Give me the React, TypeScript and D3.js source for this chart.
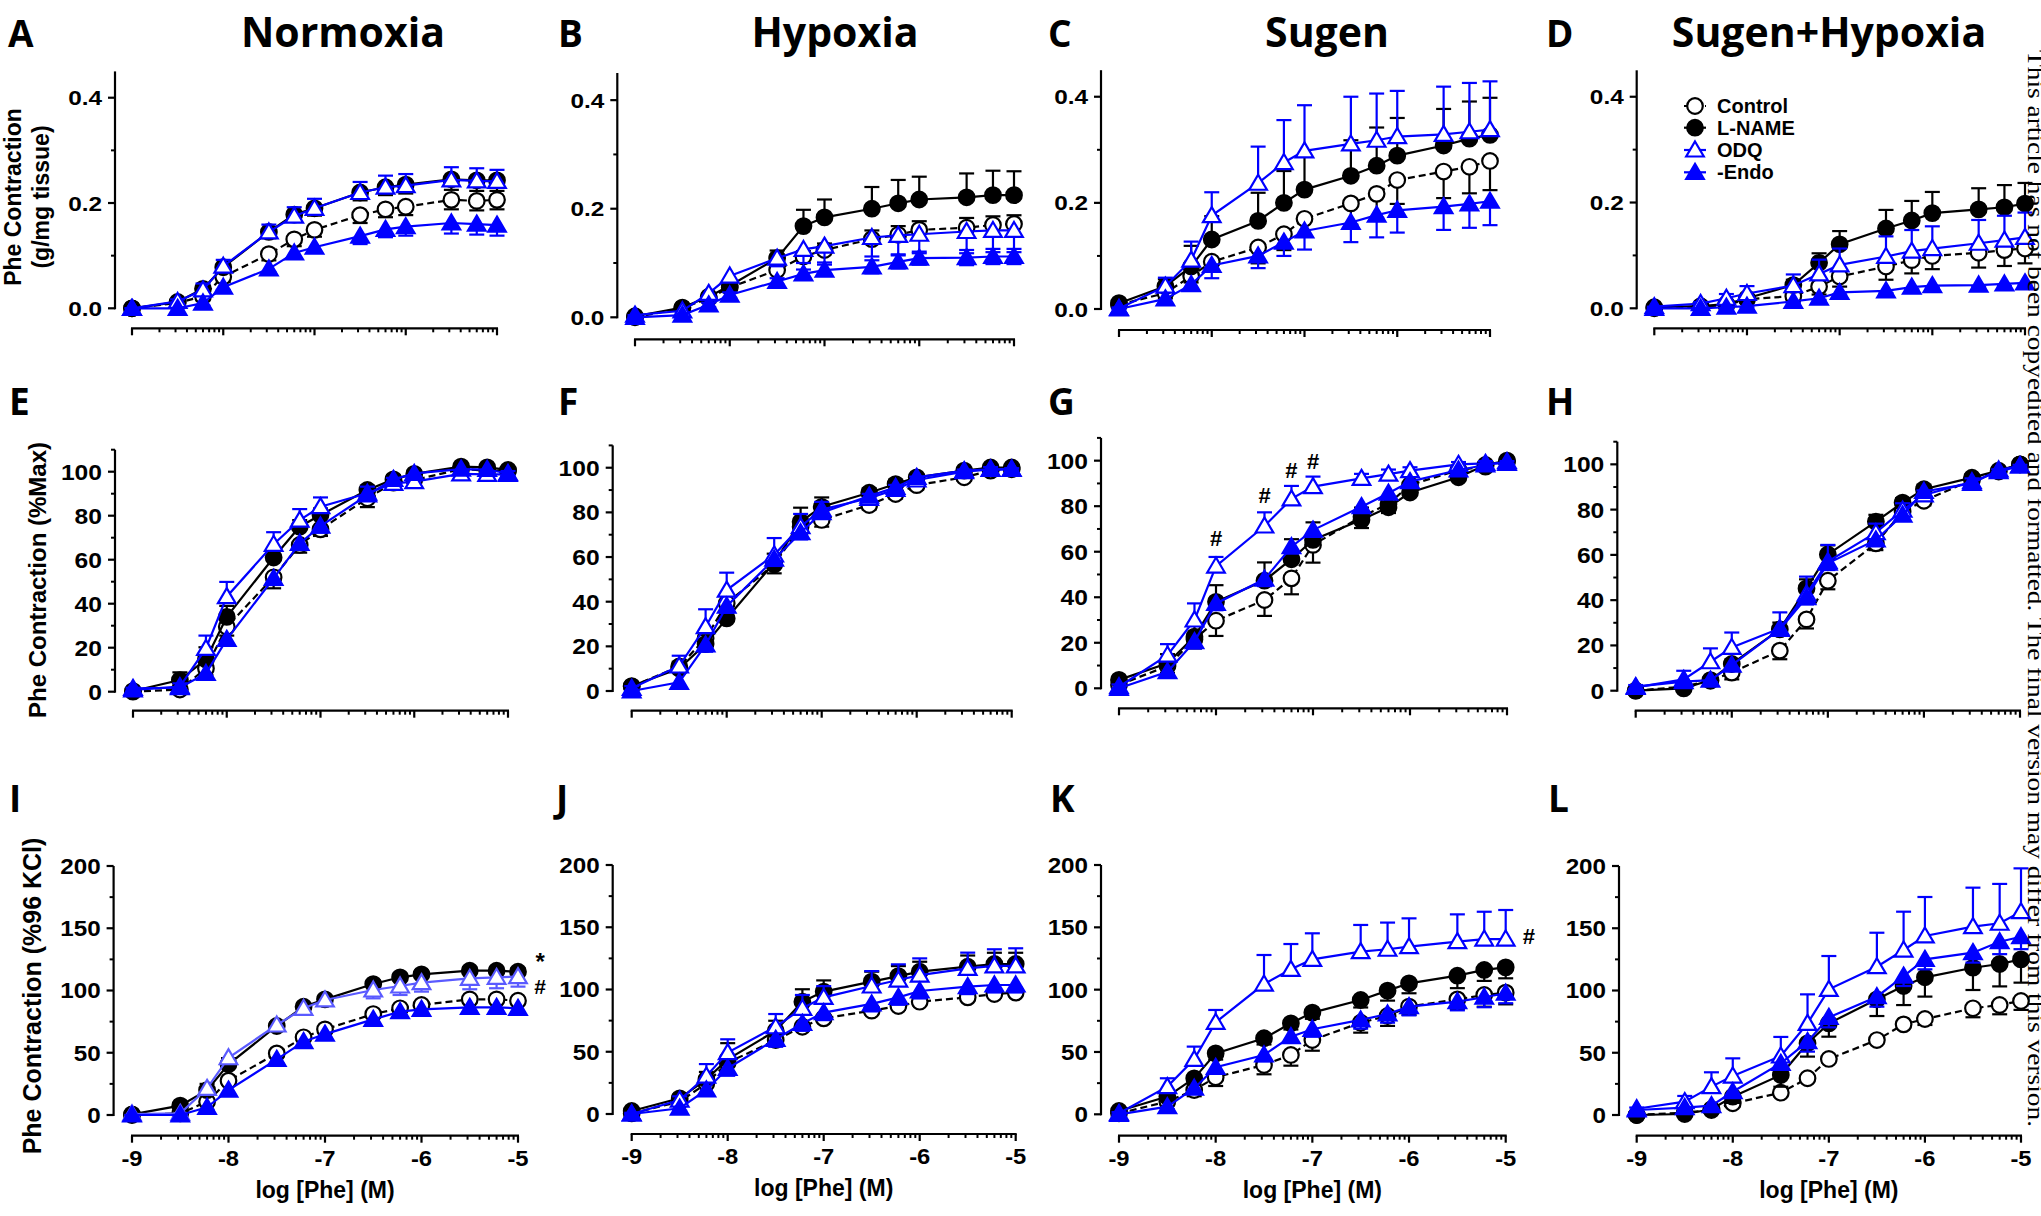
import React from "react";
import * as d3 from "d3";

// ---------- shared axis data ----------
const logPhe = [-9, -8.5, -8.222, -8, -7.5, -7.222, -7, -6.5, -6.222, -6, -5.5, -5.222, -5];
const xMajor = [-9, -8, -7, -6, -5];
const xTickLabels = ["-9", "-8", "-7", "-6", "-5"];
const seriesNames = ["Control", "L-NAME", "ODQ", "-Endo"];
const groupTitles = ["Normoxia", "Hypoxia", "Sugen", "Sugen+Hypoxia"];
const panelLetters = ["A", "B", "C", "D", "E", "F", "G", "H", "I", "J", "K", "L"];
const row1Major = [0, 0.2, 0.4];
const row1Minor = [0.1, 0.3];
const row2Major = [0, 20, 40, 60, 80, 100];
const row2Minor = [10, 30, 50, 70, 90, 110];
const row3Major = [0, 50, 100, 150, 200];
const row3Minor = [25, 75, 125, 175];
const yTitleA = ["Phe Contraction", "(g/mg tissue)"];
const yTitleE = "Phe Contraction (%Max)";
const yTitleI = "Phe Contraction (%96 KCl)";
const xTitle = "log [Phe] (M)";
const watermark = "This article has not been copyedited and formatted. The final version may differ from this version.";

// ---------- Panel A (Normoxia, g/mg) ----------
const aCtl = [0, 0.01, 0.023, 0.06, 0.103, 0.131, 0.149, 0.177, 0.188, 0.193, 0.206, 0.204, 0.206];
const aLn = [0, 0.012, 0.037, 0.078, 0.145, 0.178, 0.19, 0.22, 0.23, 0.235, 0.245, 0.243, 0.243];
const aOdq = [0, 0.013, 0.035, 0.08, 0.145, 0.175, 0.19, 0.22, 0.23, 0.233, 0.244, 0.242, 0.241];
const aEndo = [0, 0, 0.01, 0.04, 0.075, 0.105, 0.116, 0.137, 0.15, 0.155, 0.162, 0.16, 0.158];
const aCtlE = [0, 0.005, 0.008, 0.01, 0.012, 0.013, 0.013, 0.015, 0.015, 0.016, 0.018, 0.018, 0.018];
const aLnE = [0, 0.005, 0.008, 0.01, 0.012, 0.013, 0.014, 0.015, 0.015, 0.017, 0.02, 0.02, 0.02];
const aOdqE = [0, 0.004, 0.012, 0.012, 0.014, 0.017, 0.018, 0.02, 0.022, 0.022, 0.024, 0.024, 0.022];
const aEndoE = [0, 0.003, 0.005, 0.005, 0.006, 0.01, 0.01, 0.015, 0.015, 0.017, 0.02, 0.02, 0.02];
const aDir = ["down", "down", "up", "down"];

// ---------- Panel B (Hypoxia, g/mg) ----------
const bCtl = [0, 0.017, 0.035, 0.055, 0.087, 0.112, 0.124, 0.144, 0.152, 0.161, 0.165, 0.17, 0.172];
const bLn = [0.002, 0.018, 0.038, 0.058, 0.109, 0.168, 0.184, 0.2, 0.21, 0.217, 0.221, 0.225, 0.225];
const bOdq = [0.004, 0.012, 0.044, 0.076, 0.109, 0.125, 0.131, 0.147, 0.151, 0.153, 0.158, 0.16, 0.16];
const bEndo = [0, 0.004, 0.023, 0.041, 0.066, 0.08, 0.087, 0.093, 0.102, 0.109, 0.11, 0.112, 0.112];
const bCtlE = [0, 0.003, 0.005, 0.006, 0.01, 0.01, 0.012, 0.016, 0.016, 0.016, 0.018, 0.016, 0.016];
const bLnE = [0, 0.004, 0.006, 0.008, 0.014, 0.03, 0.033, 0.04, 0.043, 0.042, 0.044, 0.045, 0.044];
const bOdqE = [0, 0.003, 0.006, 0.008, 0.015, 0.025, 0.03, 0.035, 0.035, 0.035, 0.04, 0.04, 0.04];
const bEndoE = [0, 0.003, 0.004, 0.005, 0.006, 0.008, 0.01, 0.012, 0.012, 0.012, 0.014, 0.014, 0.014];
const bDir = ["up", "up", "down", "both"];

// ---------- Panel C (Sugen, g/mg) ----------
const cCtl = [0.008, 0.03, 0.062, 0.089, 0.116, 0.141, 0.17, 0.199, 0.217, 0.243, 0.259, 0.268, 0.279];
const cLn = [0.011, 0.043, 0.08, 0.131, 0.166, 0.2, 0.225, 0.251, 0.27, 0.289, 0.308, 0.321, 0.328];
const cOdq = [0.001, 0.043, 0.092, 0.176, 0.237, 0.276, 0.298, 0.311, 0.318, 0.325, 0.329, 0.334, 0.338];
const cEndo = [0, 0.019, 0.046, 0.082, 0.1, 0.126, 0.147, 0.163, 0.177, 0.186, 0.193, 0.198, 0.203];
const cCtlE = [0.002, 0.01, 0.012, 0.015, 0.03, 0.03, 0.03, 0.04, 0.045, 0.045, 0.05, 0.05, 0.055];
const cLnE = [0.003, 0.013, 0.039, 0.044, 0.053, 0.06, 0.065, 0.067, 0.072, 0.071, 0.069, 0.07, 0.07];
const cOdqE = [0.002, 0.016, 0.035, 0.044, 0.069, 0.08, 0.086, 0.089, 0.088, 0.086, 0.09, 0.092, 0.091];
const cEndoE = [0.002, 0.008, 0.01, 0.024, 0.023, 0.026, 0.035, 0.037, 0.042, 0.042, 0.044, 0.045, 0.045];
const cDir = ["down", "up", "up", "down"];

// ---------- Panel D (Sugen+Hypoxia, g/mg) ----------
const dCtl = [0, 0.003, 0.006, 0.017, 0.023, 0.041, 0.06, 0.079, 0.091, 0.099, 0.105, 0.11, 0.113];
const dLn = [0.002, 0.004, 0.008, 0.019, 0.044, 0.086, 0.121, 0.151, 0.166, 0.18, 0.187, 0.191, 0.198];
const dOdq = [0.003, 0.009, 0.019, 0.028, 0.043, 0.065, 0.082, 0.098, 0.108, 0.113, 0.123, 0.129, 0.134];
const dEndo = [0, 0, 0.002, 0.004, 0.013, 0.019, 0.03, 0.033, 0.04, 0.043, 0.044, 0.046, 0.048];
const dCtlE = [0, 0.002, 0.004, 0.006, 0.01, 0.015, 0.019, 0.025, 0.025, 0.025, 0.028, 0.03, 0.028];
const dLnE = [0, 0.002, 0.004, 0.006, 0.01, 0.018, 0.025, 0.035, 0.037, 0.04, 0.04, 0.042, 0.039];
const dOdqE = [0, 0.003, 0.008, 0.014, 0.021, 0.027, 0.031, 0.038, 0.04, 0.042, 0.044, 0.046, 0.047];
const dEndoE = [0, 0.001, 0.002, 0.002, 0.003, 0.003, 0.004, 0.004, 0.004, 0.004, 0.004, 0.004, 0.004];
const dDir = ["down", "up", "up", "down"];

// ---------- Panel E (Normoxia, %Max) ----------
const eCtl = [0, 1, 10.6, 29.5, 52, 66.7, 73.8, 87.9, 95, 96.2, 101.2, 100.5, 100.3];
const eLn = [0.3, 5.3, 14.7, 34, 61, 75, 80.3, 91.7, 96.5, 99, 102.3, 102, 100.8];
const eOdq = [0.8, 2.3, 19.7, 43.2, 67, 78, 84.1, 90.2, 94.7, 95.5, 99, 98.8, 98.8];
const eEndo = [1.5, 1.8, 8.3, 23.8, 51.5, 67.4, 75.3, 89.4, 96.5, 99.2, 101.2, 101, 99.2];
const eCtlE = [1, 1.5, 3, 4, 5, 3.5, 3, 4, 3, 2.5, 1.5, 1.5, 1];
const eLnE = [1, 3.5, 5.5, 5, 3, 3, 3, 2, 2, 1.5, 1, 1, 1];
const eOdqE = [1, 1.5, 5.8, 6.7, 5.5, 5, 4.2, 3, 2.5, 2, 1.5, 1.5, 1.5];
const eEndoE = [1, 1, 2, 2.5, 3, 3, 3, 2, 2, 1.5, 1, 1, 1];
const eDir = ["down", "up", "up", "down"];

// ---------- Panel F (Hypoxia, %Max) ----------
const fCtl = [2, 11, 23.6, 39.3, 56.7, 73.6, 76.6, 83.3, 88.2, 92.2, 95.7, 98.7, 99.3];
const fLn = [2.2, 10.1, 21, 32.5, 57.5, 75.8, 82.5, 88.8, 92.7, 95.7, 98.7, 100.1, 100.1];
const fOdq = [1.2, 11.2, 28.8, 45.2, 61, 73.6, 81.3, 86.3, 90.3, 94.5, 98.2, 99.3, 99.3];
const fEndo = [0, 3.9, 20.6, 38, 59, 70.9, 79.9, 87.3, 91.2, 95.7, 98.7, 99.3, 99.3];
const fCtlE = [1, 2, 3, 4.5, 4, 3.5, 3, 2, 2, 2, 1.5, 1, 1];
const fLnE = [1, 3, 4, 4, 4, 6.3, 4.2, 2, 2, 1.5, 1, 1, 0.5];
const fOdqE = [1, 4.6, 7.8, 7.8, 7.5, 5.7, 3.4, 2, 2, 1.5, 1, 1, 0.5];
const fEndoE = [1, 2, 3, 3, 3, 3, 2, 2, 1.5, 1.5, 1, 1, 0.5];
const fDir = ["down", "up", "up", "down"];

// ---------- Panel G (Sugen, %Max) ----------
const gCtl = [1.5, 9.8, 21.5, 29.7, 38.8, 48.3, 63, 75.4, 81, 89.3, 95.9, 97.4, 99.6];
const gLn = [3.7, 11, 22.7, 38, 47.3, 56.7, 65.2, 74, 79.5, 86, 92.7, 98.1, 100];
const gOdq = [0.7, 14.6, 30, 53.7, 71.3, 83.2, 88.6, 92.2, 94.1, 95.6, 98.4, 98.8, 98.8];
const gEndo = [0, 7.3, 20.5, 37.3, 47.9, 62.2, 69.5, 79.8, 85.7, 90.8, 95.9, 98.1, 99.6];
const gCtlE = [1, 3, 4, 6.7, 7, 7, 7.8, 5, 4, 3, 2, 1.5, 1];
const gLnE = [1, 4, 6, 7.3, 8, 8.8, 7.7, 5.4, 3.8, 3, 2, 1.5, 1];
const gOdqE = [1, 4.8, 7.3, 4, 6, 5.7, 4.4, 2, 2, 1.5, 1, 1, 1];
const gEndoE = [1, 2, 3, 3, 3, 3, 3, 2, 2, 2, 1, 1, 1];
const gDir = ["down", "up", "up", "down"];
const gHashIdx = [3, 4, 5, 6];
const gHashVal = [66, 85, 96, 100];

// ---------- Panel H (Sugen+Hypoxia, %Max) ----------
const hCtl = [0, 1.8, 4.4, 8, 17.7, 31.5, 48.6, 65.1, 79.1, 83.9, 93.1, 96.8, 100];
const hLn = [0, 1, 4.7, 11.8, 27.1, 45.2, 60.2, 74.7, 83.1, 89, 94.1, 97.2, 100];
const hOdq = [1.5, 5, 12.8, 19.1, 27.5, 42.7, 57, 69.8, 79.8, 86.5, 92.3, 96.8, 99.3];
const hEndo = [1.8, 4, 4.7, 11.3, 27.1, 41.1, 56.3, 66.6, 77.6, 88, 91.6, 97.5, 99.3];
const hCtlE = [1, 1.5, 2, 3, 3.8, 4, 3.8, 3, 3, 2, 1.5, 1, 0.5];
const hLnE = [1, 1, 1.5, 2, 3, 4, 4, 3, 2, 2, 1.5, 1, 0.5];
const hOdqE = [1, 3.8, 5.9, 6.6, 7.1, 7.7, 7.4, 4, 3, 2, 1.5, 1, 0.5];
const hEndoE = [1, 1, 1, 2, 2, 3, 3, 2, 2, 2, 1.5, 1, 0.5];
const hDir = ["down", "up", "up", "down"];

// ---------- Panel I (Normoxia, %KCl) ----------
const iCtl = [0, 1.3, 10.7, 27.6, 49.5, 62.4, 68.8, 81.1, 85.7, 88.4, 92.9, 92.9, 91.8];
const iLn = [0.5, 7.5, 20, 40.7, 71.5, 87, 92.9, 105.2, 110.6, 113, 115.9, 115.9, 115.1];
const iOdq = [0.8, 1.3, 21.4, 46, 72.3, 85.7, 92.4, 100.4, 103.6, 106.3, 109.8, 110.6, 111.1];
const iEndo = [0, 0, 6.2, 20, 44.7, 58.9, 65, 76.8, 83, 84.9, 86.5, 86.5, 85.7];
const iCtlE = [1, 1, 2, 3, 3, 3, 3, 3, 3, 3, 3, 3, 3];
const iLnE = [1, 2, 5, 5, 3, 3, 3, 3, 3, 3, 3, 3, 3];
const iOdqE = [1, 1, 3, 4, 3, 3, 4, 6.7, 7.2, 7.2, 8.8, 8.8, 8];
const iEndoE = [1, 1, 2, 3, 3, 3, 3, 3, 3, 3, 3, 3, 3];
const iDir = ["down", "up", "down", "down"];
const iMarks = ["*", "#"];
const iMarkX = [-4.77, -4.77];
const iMarkVal = [126, 104];

// ---------- Panel J (Hypoxia, %KCl) ----------
const jCtl = [0.5, 10, 24.6, 41.2, 59.4, 70.1, 76.8, 83, 86.7, 90.2, 93.7, 96.4, 97.5];
const jLn = [2.4, 12.6, 27.8, 43.9, 66.9, 90.2, 98.3, 106.3, 110.8, 114.3, 118.3, 120.5, 120.5];
const jOdq = [0, 11.2, 30.5, 49.3, 70.1, 84.9, 93.7, 102.8, 107.6, 111.6, 117, 118.9, 118.9];
const jEndo = [0, 4.6, 19.3, 36.7, 60, 72.8, 81.4, 88.4, 93.7, 98.8, 102.3, 103.6, 103.6];
const jCtlE = [1, 2, 3, 3, 3, 3, 3, 3, 3, 3, 3, 3, 3];
const jLnE = [1, 3, 6, 13, 8, 10, 9, 8, 8, 8, 9, 9, 9];
const jOdqE = [1, 3, 9.6, 10.7, 10.2, 10.7, 9, 12, 12.6, 13.4, 12.6, 13.4, 14.2];
const jEndoE = [1, 2, 4, 6, 6, 6, 6, 6, 6, 6, 6, 6, 6];
const jDir = ["down", "up", "up", "down"];

// ---------- Panel K (Sugen, %KCl) ----------
const kCtl = [0.8, 10.2, 19.5, 29.7, 39.6, 47.6, 59.6, 73.5, 78.9, 86.4, 92.2, 95.7, 97.6];
const kLn = [2.7, 14.2, 28.9, 48.9, 61, 73, 81.6, 91.7, 99.2, 105.1, 111.2, 115.8, 117.9];
const kOdq = [0.8, 22.2, 44.1, 73.8, 104.5, 116.3, 124.3, 130.5, 132.4, 134.5, 138.5, 140.6, 140.6];
const kEndo = [0, 6.1, 20.9, 37.7, 47.6, 62.3, 68.2, 75.7, 80.5, 86.4, 90.4, 93.9, 97.1];
const kCtlE = [1, 3, 5, 7, 7.5, 8.6, 8.6, 8, 8, 6.7, 8, 9.4, 9.4];
const kLnE = [1, 3, 5, 5, 5, 5, 5, 6, 8, 8, 10, 8.8, 8.8];
const kOdqE = [1, 6.7, 10.2, 9.9, 23.3, 20.3, 20.9, 21.4, 21.4, 22.7, 21.9, 21.9, 23.3];
const kEndoE = [1, 2, 4, 5, 5, 5, 6, 7, 7, 7, 7, 8, 8];
const kDir = ["down", "down", "up", "down"];
const kMarkX = [-4.76];
const kMarkVal = [143];

// ---------- Panel L (Sugen+Hypoxia, %KCl) ----------
const lCtl = [0, 1.9, 4, 9.4, 17.9, 29.5, 45, 60.2, 72.8, 77.1, 85.7, 88.4, 91.6];
const lLn = [0, 0.8, 4.6, 14.7, 32.1, 57.6, 73.6, 92.9, 103.6, 110.6, 118.3, 121.3, 125];
const lOdq = [5, 10.7, 22.8, 31.3, 47.4, 73.6, 100.9, 119.1, 132.5, 143.8, 151.3, 154, 163.3];
const lEndo = [4, 6, 7.5, 18.7, 41.5, 58.9, 78.4, 95, 111.6, 125, 130.4, 139.2, 143.2];
const lCtlE = [1, 1, 2, 3, 3, 3, 3, 3, 3, 4.8, 7.2, 7.5, 7.2];
const lLnE = [1, 2, 3, 5, 9.4, 10.7, 10.7, 13.4, 15.3, 15.5, 17.9, 18, 18.7];
const lOdqE = [1, 4.6, 11.5, 14.2, 15.3, 23.3, 26.8, 27.3, 30.8, 31.3, 31.3, 31.6, 34.8];
const lEndoE = [1, 2, 2, 3, 5, 8, 8, 8, 8, 8, 8, 10, 10];
const lDir = ["down", "down", "up", "down"];

// ---------- styling ----------
const BLUE = "#0000ff";
const LIGHTBLUE = "#5a5aff";
const SANS = "'Liberation Sans', Arial, Helvetica, sans-serif";
const TITLE_FONT = "'Open Sans', Lato, sans-serif";

const rowCfg = [
  { ymax: 0.45, major: row1Major, minor: row1Minor, fmt: d3.format(".1f"), tickFont: 21, stretch: 1.16 },
  { ymax: 110, major: row2Major, minor: row2Minor, fmt: d3.format("d"), tickFont: 22, stretch: 1.12 },
  { ymax: 200, major: row3Major, minor: row3Minor, fmt: d3.format("d"), tickFont: 22, stretch: 1.1 },
];

const panels = [
  { row: 0, ax: 115, x0: 132, x1: 497, y0: 308.3, y1: 71.4, xay: 328.3, s: [aCtl, aLn, aOdq, aEndo], e: [aCtlE, aLnE, aOdqE, aEndoE], dir: aDir, lx: 8, ly: 47 },
  { row: 0, ax: 617.3, x0: 635, x1: 1014, y0: 317.3, y1: 73, xay: 339.3, s: [bCtl, bLn, bOdq, bEndo], e: [bCtlE, bLnE, bOdqE, bEndoE], dir: bDir, lx: 558, ly: 47 },
  { row: 0, ax: 1101, x0: 1119, x1: 1490, y0: 309, y1: 70.2, xay: 330, s: [cCtl, cLn, cOdq, cEndo], e: [cCtlE, cLnE, cOdqE, cEndoE], dir: cDir, lx: 1048, ly: 47 },
  { row: 0, ax: 1636.7, x0: 1654.3, x1: 2025, y0: 308.3, y1: 70.3, xay: 328.3, s: [dCtl, dLn, dOdq, dEndo], e: [dCtlE, dLnE, dOdqE, dEndoE], dir: dDir, lx: 1546, ly: 47 },
  { row: 1, ax: 115, x0: 133, x1: 508, y0: 691.7, y1: 449.7, xay: 710.7, s: [eCtl, eLn, eOdq, eEndo], e: [eCtlE, eLnE, eOdqE, eEndoE], dir: eDir, lx: 9, ly: 415 },
  { row: 1, ax: 612.7, x0: 631.7, x1: 1011.7, y0: 691, y1: 445.4, xay: 710.7, s: [fCtl, fLn, fOdq, fEndo], e: [fCtlE, fLnE, fOdqE, fEndoE], dir: fDir, lx: 558, ly: 415 },
  { row: 1, ax: 1101, x0: 1119, x1: 1507, y0: 688.3, y1: 437.9, xay: 708.3, s: [gCtl, gLn, gOdq, gEndo], e: [gCtlE, gLnE, gOdqE, gEndoE], dir: gDir, lx: 1048, ly: 415 },
  { row: 1, ax: 1617.3, x0: 1635.7, x1: 2020, y0: 690.7, y1: 441.7, xay: 710.7, s: [hCtl, hLn, hOdq, hEndo], e: [hCtlE, hLnE, hOdqE, hEndoE], dir: hDir, lx: 1546, ly: 415 },
  { row: 2, ax: 113.6, x0: 132, x1: 518, y0: 1115, y1: 866, xay: 1135.7, s: [iCtl, iLn, iOdq, iEndo], e: [iCtlE, iLnE, iOdqE, iEndoE], dir: iDir, lx: 9, ly: 812 },
  { row: 2, ax: 612.7, x0: 631.7, x1: 1015.7, y0: 1114, y1: 865, xay: 1134, s: [jCtl, jLn, jOdq, jEndo], e: [jCtlE, jLnE, jOdqE, jEndoE], dir: jDir, lx: 556, ly: 812 },
  { row: 2, ax: 1101, x0: 1119, x1: 1505.7, y0: 1114.3, y1: 865, xay: 1135.7, s: [kCtl, kLn, kOdq, kEndo], e: [kCtlE, kLnE, kOdqE, kEndoE], dir: kDir, lx: 1050, ly: 812 },
  { row: 2, ax: 1619, x0: 1636.7, x1: 2021, y0: 1115, y1: 866, xay: 1135.7, s: [lCtl, lLn, lOdq, lEndo], e: [lCtlE, lLnE, lOdqE, lEndoE], dir: lDir, lx: 1548, ly: 812 },
];

const titleCenters = [343, 835, 1327, 1829];

function seriesStyle(k: number, panelIdx: number) {
  const odqColor = panelIdx === 8 ? LIGHTBLUE : BLUE;
  if (k === 0) return { color: "#000", fill: "#fff", shape: "circle", dash: "7,4" };
  if (k === 1) return { color: "#000", fill: "#000", shape: "circle", dash: undefined };
  if (k === 2) return { color: odqColor, fill: "#fff", shape: "tri", dash: undefined };
  return { color: BLUE, fill: BLUE, shape: "tri", dash: undefined };
}

const TRI = "M0,-8.5 L8.8,6.5 L-8.8,6.5 Z";

function Marker({ cx, cy, st }: any) {
  if (st.shape === "circle")
    return <circle cx={cx} cy={cy} r={7.8} fill={st.fill} stroke={st.color} strokeWidth={2.2} />;
  return <path d={TRI} transform={`translate(${cx},${cy})`} fill={st.fill} stroke={st.color} strokeWidth={2.2} strokeLinejoin="miter" />;
}

function Panel({ p, idx }: any) {
  const cfg = rowCfg[p.row];
  const x = d3.scaleLinear().domain([-9, -5]).range([p.x0, p.x1]);
  const y = d3.scaleLinear().domain([0, cfg.ymax]).range([p.y0, p.y1]);
  const line = d3.line<number>().x((_, i) => x(logPhe[i])).y((v) => y(v));
  const minorX: number[] = [];
  for (let dec = -9; dec < -5; dec++) for (let k = 2; k <= 9; k++) minorX.push(dec + Math.log10(k));

  return (
    <g>
      {/* y axis */}
      <line x1={p.ax} x2={p.ax} y1={y(0) + 1} y2={y(cfg.ymax)} stroke="#000" strokeWidth={2.2} />
      {cfg.major.map((t: number) => (
        <g key={"ym" + t}>
          <line x1={p.ax - 7} x2={p.ax} y1={y(t)} y2={y(t)} stroke="#000" strokeWidth={2.2} />
          <text transform={`translate(${p.ax - 13},${y(t) + cfg.tickFont * 0.36}) scale(${cfg.stretch},1)`} textAnchor="end" fontFamily={SANS} fontWeight="bold" fontSize={cfg.tickFont}>
            {cfg.fmt(t)}
          </text>
        </g>
      ))}
      {cfg.minor.map((t: number) => (
        <line key={"yn" + t} x1={p.ax - 4} x2={p.ax} y1={y(t)} y2={y(t)} stroke="#000" strokeWidth={2} />
      ))}
      {/* x axis */}
      <line x1={x(-9) - 1} x2={x(-5) + 1} y1={p.xay} y2={p.xay} stroke="#000" strokeWidth={2.2} />
      {xMajor.map((t) => (
        <line key={"xm" + t} x1={x(t)} x2={x(t)} y1={p.xay} y2={p.xay + 7} stroke="#000" strokeWidth={2.2} />
      ))}
      {minorX.map((t, i) => (
        <line key={"xn" + i} x1={x(t)} x2={x(t)} y1={p.xay} y2={p.xay + 4} stroke="#000" strokeWidth={2} />
      ))}
      {p.row === 2 &&
        xMajor.map((t, i) => (
          <text key={"xl" + t} transform={`translate(${x(t)},${p.xay + 30}) scale(1.08,1)`} textAnchor="middle" fontFamily={SANS} fontWeight="bold" fontSize={22}>
            {xTickLabels[i]}
          </text>
        ))}
      {p.row === 2 && (
        <text x={(p.x0 + p.x1) / 2} y={p.xay + 62} textAnchor="middle" fontFamily={SANS} fontWeight="bold" fontSize={23}>
          {xTitle}
        </text>
      )}
      {/* series */}
      {p.s.map((vals: number[], k: number) => {
        const st = seriesStyle(k, idx);
        const errs = p.e[k];
        const dir = p.dir[k];
        return (
          <g key={"s" + k}>
            {vals.map((v, i) => {
              const cx = x(logPhe[i]);
              const segs: number[] = [];
              if (dir === "up" || dir === "both") segs.push(v + errs[i]);
              if (dir === "down" || dir === "both") segs.push(Math.max(0, v - errs[i]));
              return segs.map((ev, j) => (
                <g key={"e" + i + "_" + j}>
                  <line x1={cx} x2={cx} y1={y(v)} y2={y(ev)} stroke={st.color} strokeWidth={2.2} />
                  <line x1={cx - 7.5} x2={cx + 7.5} y1={y(ev)} y2={y(ev)} stroke={st.color} strokeWidth={2.2} />
                </g>
              ));
            })}
            <path d={line(vals) || ""} fill="none" stroke={st.color} strokeWidth={2.2} strokeDasharray={st.dash} />
            {vals.map((v, i) => (
              <Marker key={"m" + i} cx={x(logPhe[i])} cy={y(v)} st={st} />
            ))}
          </g>
        );
      })}
      {/* panel letter */}
      <text x={p.lx} y={p.ly} fontFamily={TITLE_FONT} fontWeight="bold" fontSize={37}>
        {panelLetters[idx]}
      </text>
      {idx === 6 &&
        gHashIdx.map((gi, j) => (
          <text key={"gh" + j} x={x(logPhe[gi])} y={y(gHashVal[j]) + 8} textAnchor="middle" fontFamily={SANS} fontWeight="bold" fontSize={22}>
            #
          </text>
        ))}
      {idx === 8 &&
        iMarks.map((m, j) => (
          <text key={"im" + j} x={x(iMarkX[j])} y={y(iMarkVal[j]) + (m === "*" ? 12 : 8)} textAnchor="middle" fontFamily={SANS} fontWeight="bold" fontSize={m === "*" ? 24 : 21}>
            {m}
          </text>
        ))}
      {idx === 10 &&
        kMarkX.map((mx, j) => (
          <text key={"km" + j} x={x(mx)} y={y(kMarkVal[j]) + 8} textAnchor="middle" fontFamily={SANS} fontWeight="bold" fontSize={22}>
            #
          </text>
        ))}
    </g>
  );
}

function Legend() {
  const rowsY = [106, 127.7, 150, 172.3];
  return (
    <g>
      {seriesNames.map((name, k) => {
        const st = seriesStyle(k, 3);
        return (
          <g key={name}>
            <line x1={1684} x2={1706} y1={rowsY[k]} y2={rowsY[k]} stroke={st.color} strokeWidth={2.2} strokeDasharray={k === 0 ? "4,3" : undefined} />
            <Marker cx={1695} cy={rowsY[k]} st={st} />
            <text x={1717} y={rowsY[k] + 7} fontFamily={SANS} fontWeight="bold" fontSize={20}>
              {name}
            </text>
          </g>
        );
      })}
    </g>
  );
}

export default function App() {
  return (
    <svg width={2041} height={1216} style={{ position: "absolute", left: 0, top: 0, background: "#fff" }}>
      <rect x={0} y={0} width={2041} height={1216} fill="#fff" />
      {groupTitles.map((t, i) => (
        <text key={t} x={titleCenters[i]} y={47} textAnchor="middle" fontFamily={TITLE_FONT} fontWeight="bold" fontSize={41}>
          {t}
        </text>
      ))}
      {/* y axis titles */}
      <text transform="translate(21,197) rotate(-90)" textAnchor="middle" fontFamily={SANS} fontWeight="bold" fontSize={23}>
        {yTitleA[0]}
      </text>
      <text transform="translate(49,197) rotate(-90)" textAnchor="middle" fontFamily={SANS} fontWeight="bold" fontSize={23}>
        {yTitleA[1]}
      </text>
      <text transform="translate(46,580) rotate(-90)" textAnchor="middle" fontFamily={SANS} fontWeight="bold" fontSize={24}>
        {yTitleE}
      </text>
      <text transform="translate(41,996) rotate(-90)" textAnchor="middle" fontFamily={SANS} fontWeight="bold" fontSize={25}>
        {yTitleI}
      </text>
      {panels.map((p, i) => (
        <Panel key={i} p={p} idx={i} />
      ))}
      <Legend />
      <text transform="translate(2028,50) rotate(90)" fontFamily="'Liberation Serif', 'Times New Roman', serif" fontSize={24} textLength={1077} lengthAdjust="spacingAndGlyphs">
        {watermark}
      </text>
    </svg>
  );
}
